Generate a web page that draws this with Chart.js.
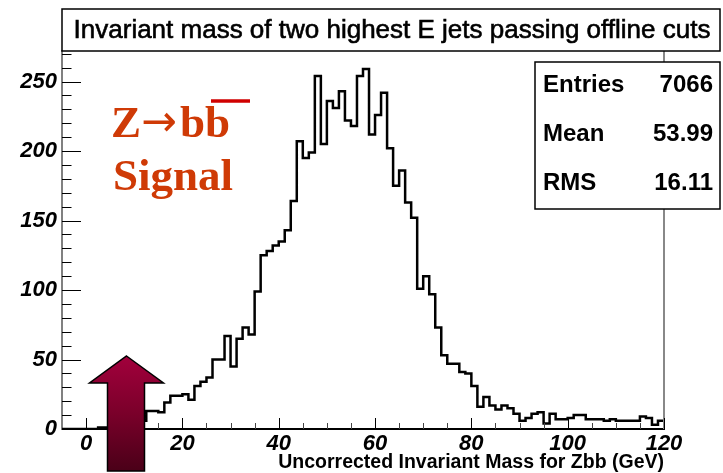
<!DOCTYPE html>
<html>
<head>
<meta charset="utf-8">
<script src="https://cdn.jsdelivr.net/npm/chart.js@4.4.1/dist/chart.umd.min.js"></script>
<style>
  html, body { margin: 0; padding: 0; background: #ffffff; }
  #wrap { width: 723px; height: 473px; position: relative; }
</style>
</head>
<body>
<div id="wrap"><canvas id="c" width="723" height="473"></canvas></div>
<script>
// Histogram definition: 100 bins from -5 to 120 GeV
const histTitle = 'Invariant mass of two highest E jets passing offline cuts';
const xAxisTitle = 'Uncorrected Invariant Mass for Zbb (GeV)';
const xMin = -5;
const xMax = 120;
const binWidth = 1.25;

// Counts per bin
const binCounts = [
  0, 0, 0, 0, 0, 0, 1, 1, 2, 3,
  3, 4, 5, 6, 13, 13, 12, 19, 24, 24,
  25, 21, 31, 34, 37, 50, 50, 67, 45, 65,
  73, 68, 99, 125, 128, 132, 135, 143, 164, 207,
  195, 199, 254, 205, 236, 231, 243, 222, 218, 254,
  259, 212, 226, 242, 202, 175, 186, 163, 152, 101,
  110, 97, 73, 53, 47, 47, 41, 40, 31, 16,
  23, 17, 14, 17, 15, 11, 6, 8, 11, 12,
  4, 11, 7, 7, 8, 10, 10, 7, 7, 7,
  6, 7, 6, 6, 6, 6, 9, 8, 3, 6
];

const xTickLabels = [0, 20, 40, 60, 80, 100, 120];
const yTickLabels = [0, 50, 100, 150, 200, 250];
const yMax = 272;

const statNames = ['Entries', 'Mean', 'RMS'];
const statValues = ['7066', '53.99', '16.11'];
const signalParts = ['Z', '\u2192', 'bb'];
const signalLine2 = 'Signal';

const SANS = "'Liberation Sans', Arial, Helvetica, sans-serif";
const SERIF = "'Liberation Serif', 'Times New Roman', serif";

// Step points at the lower edge of every bin, closed at the upper edge
const histPoints = binCounts.map((v, i) => ({ x: xMin + i * binWidth, y: v }));
histPoints.push({ x: xMax, y: binCounts[binCounts.length - 1] });

// Inward major/minor tick marks, frame, title box, stats box and annotation
const decorations = {
  id: 'decorations',
  afterDraw(chart) {
    const { ctx, chartArea: a, scales } = chart;
    const xs = scales.x, ys = scales.y;
    ctx.save();

    // right frame edge
    ctx.strokeStyle = '#888888';
    ctx.lineWidth = 2;
    ctx.beginPath();
    ctx.moveTo(a.right, a.top);
    ctx.lineTo(a.right, a.bottom);
    ctx.stroke();

    // y ticks (every 10, long every 50)
    ctx.strokeStyle = '#000000';
    ctx.lineWidth = 1;
    for (let v = 0; v <= yMax; v += 10) {
      const py = Math.round(ys.getPixelForValue(v)) + 0.5;
      const len = (v % 50 === 0) ? 19 : 9.5;
      ctx.beginPath();
      ctx.moveTo(a.left, py);
      ctx.lineTo(a.left + len, py);
      ctx.stroke();
    }
    // x ticks (every 5, long every 20)
    for (let v = 0; v <= xMax; v += 5) {
      const px = Math.round(xs.getPixelForValue(v)) + 0.5;
      const len = (v % 20 === 0) ? 11 : 6;
      ctx.strokeStyle = (v % 20 === 0) ? '#000000' : '#444444';
      ctx.beginPath();
      ctx.moveTo(px, a.bottom);
      ctx.lineTo(px, a.bottom - len);
      ctx.stroke();
    }

    // title box
    ctx.fillStyle = '#ffffff';
    ctx.fillRect(62, 9, 658, 42);
    ctx.strokeStyle = '#000000';
    ctx.lineWidth = 1.5;
    ctx.strokeRect(62, 9, 658, 42);
    ctx.fillStyle = '#000000';
    ctx.font = '26px ' + SANS;
    ctx.textAlign = 'center';
    ctx.textBaseline = 'middle';
    ctx.fillText(histTitle, 392, 31);
    ctx.lineWidth = 0.6;
    ctx.strokeText(histTitle, 392, 31);

    // stats box
    ctx.fillStyle = '#ffffff';
    ctx.fillRect(535, 62, 185, 147);
    ctx.strokeStyle = '#000000';
    ctx.lineWidth = 1.5;
    ctx.strokeRect(535, 62, 185, 147);
    ctx.fillStyle = '#000000';
    ctx.font = 'bold 24px ' + SANS;
    const rowY = [85, 134, 183];
    statNames.forEach((n, i) => {
      ctx.textAlign = 'left';
      ctx.fillText(n, 543, rowY[i]);
      ctx.textAlign = 'right';
      ctx.fillText(statValues[i], 713, rowY[i]);
    });

    // signal label: Z -> b bbar
    ctx.fillStyle = '#cf3a06';
    ctx.textAlign = 'left';
    ctx.textBaseline = 'alphabetic';
    ctx.font = 'bold 45px ' + SERIF;
    ctx.fillText(signalParts[0], 111, 137);
    ctx.font = '44px ' + "'DejaVu Sans', sans-serif";
    ctx.save();
    ctx.translate(141, 136);
    ctx.scale(0.97, 1);
    ctx.fillText(signalParts[1], 0, 0);
    ctx.restore();
    ctx.font = 'bold 45px ' + SERIF;
    ctx.fillText(signalParts[2], 180, 137);
    ctx.fillText(signalLine2, 113, 190);
    ctx.strokeStyle = '#d00000';
    ctx.lineWidth = 3.5;
    ctx.beginPath();
    ctx.moveTo(211, 101);
    ctx.lineTo(250, 101);
    ctx.stroke();

    // upward arrow
    const g = ctx.createLinearGradient(0, 356, 0, 471);
    g.addColorStop(0, '#a2003c');
    g.addColorStop(0.5, '#7a002a');
    g.addColorStop(1, '#4a0018');
    ctx.beginPath();
    ctx.moveTo(126.5, 356);
    ctx.lineTo(163.5, 383);
    ctx.lineTo(144.5, 383);
    ctx.lineTo(144.5, 471);
    ctx.lineTo(107.5, 471);
    ctx.lineTo(107.5, 383);
    ctx.lineTo(89.5, 383);
    ctx.closePath();
    ctx.fillStyle = g;
    ctx.fill();
    ctx.strokeStyle = '#000000';
    ctx.lineWidth = 1.5;
    ctx.stroke();

    ctx.restore();
  }
};

new Chart(document.getElementById('c'), {
  type: 'line',
  data: {
    datasets: [{
      data: histPoints,
      stepped: true,
      borderColor: '#000000',
      borderWidth: 2.5,
      pointRadius: 0,
      fill: false,
      tension: 0
    }]
  },
  options: {
    responsive: false,
    animation: false,
    devicePixelRatio: 1,
    layout: { padding: { top: 51, right: 59, left: 0, bottom: 0 } },
    plugins: { legend: { display: false }, tooltip: { enabled: false } },
    scales: {
      x: {
        type: 'linear',
        min: xMin,
        max: xMax,
        afterBuildTicks: s => { s.ticks = xTickLabels.map(v => ({ value: v })); },
        afterFit: s => { s.height = 44; },
        grid: { display: false, drawTicks: false },
        border: { display: true, color: '#000000', width: 2 },
        ticks: {
          autoSkip: false,
          maxRotation: 0,
          padding: 2,
          color: '#000000',
          font: { family: SANS, size: 22, weight: 'bold', style: 'italic' }
        },
        title: {
          display: true,
          text: xAxisTitle,
          align: 'end',
          color: '#000000',
          padding: { top: 0, bottom: 1 },
          font: { family: SANS, size: 19.5, weight: 'bold', lineHeight: 1 }
        }
      },
      y: {
        min: 0,
        max: yMax,
        afterBuildTicks: s => { s.ticks = yTickLabels.map(v => ({ value: v })); },
        afterFit: s => { s.width = 62; },
        grid: { display: false, drawTicks: false },
        border: { display: true, color: '#808080', width: 2 },
        ticks: {
          padding: 5,
          color: '#000000',
          font: { family: SANS, size: 22, weight: 'bold', style: 'italic' }
        }
      }
    }
  },
  plugins: [decorations]
});
</script>
</body>
</html>
